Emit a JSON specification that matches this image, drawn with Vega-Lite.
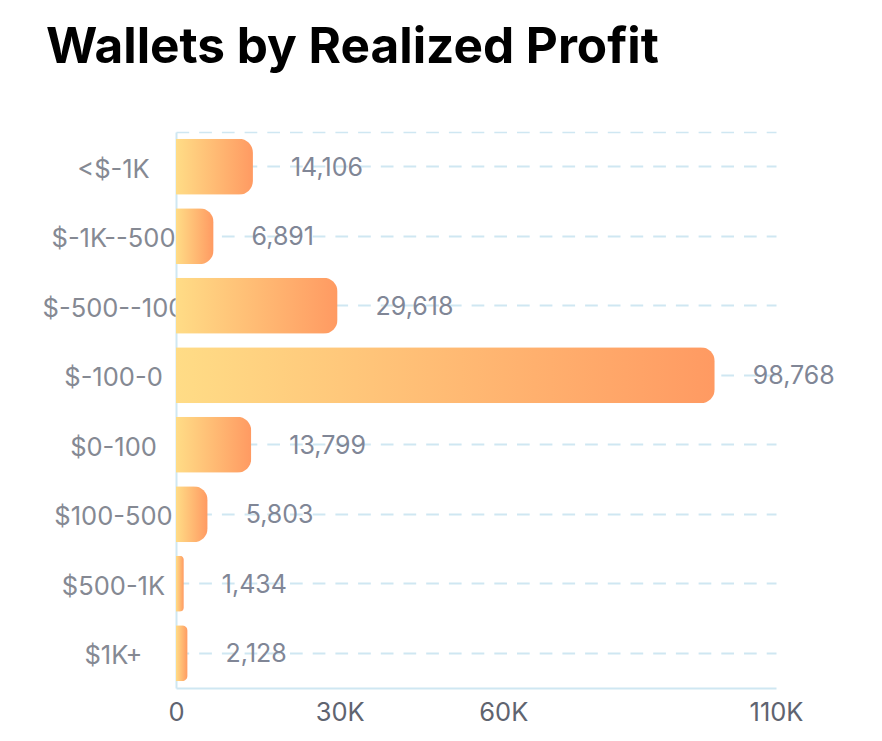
{
  "$schema": "https://vega.github.io/schema/vega-lite/v6.json",
  "width": 600,
  "height": 556,
  "padding": {"left": 176, "top": 132, "right": 106, "bottom": 53},
  "autosize": {"type": "none"},
  "background": "white",
  "view": {"stroke": null},
  "title": {
    "text": "Wallets by Realized Profit",
    "anchor": "start",
    "frame": "group",
    "font": "Inter",
    "fontSize": 49.5,
    "fontWeight": 700,
    "color": "#000000",
    "dx": -130,
    "dy": -55
  },
  "data": {
    "values": [
      {"bucket": "<$-1K", "wallets": 14106},
      {"bucket": "$-1K--500", "wallets": 6891},
      {"bucket": "$-500--100", "wallets": 29618},
      {"bucket": "$-100-0", "wallets": 98768},
      {"bucket": "$0-100", "wallets": 13799},
      {"bucket": "$100-500", "wallets": 5803},
      {"bucket": "$500-1K", "wallets": 1434},
      {"bucket": "$1K+", "wallets": 2128}
    ]
  },
  "encoding": {
    "y": {
      "field": "bucket",
      "type": "nominal",
      "sort": null,
      "title": null,
      "scale": {"paddingInner": 0.195, "paddingOuter": 0.0975},
      "axis": {
        "ticks": false,
        "labelAlign": "center",
        "labelPadding": 63,
        "labelLimit": 0,
        "labelOffset": 3,
        "labelFont": "Inter",
        "labelFontSize": 25.5,
        "labelColor": "#858993",
        "domainColor": "#CFE7F2",
        "domainWidth": 2,
        "grid": true,
        "gridColor": "#CFE7F2",
        "gridWidth": 2,
        "gridDash": [12.7, 10]
      }
    }
  },
  "layer": [
    {
      "mark": {
        "type": "bar",
        "cornerRadiusEnd": 14,
        "color": {
          "gradient": "linear",
          "x1": 0, "y1": 0, "x2": 1, "y2": 0,
          "stops": [
            {"offset": 0, "color": "#FFDC86"},
            {"offset": 1, "color": "#FF9A62"}
          ]
        }
      },
      "encoding": {
        "x": {
          "field": "wallets",
          "type": "quantitative",
          "title": null,
          "scale": {"domain": [0, 110000], "nice": false},
          "axis": {
            "values": [0, 30000, 60000, 110000],
            "labelExpr": "datum.value == 0 ? '0' : datum.value / 1000 + 'K'",
            "ticks": false,
            "grid": false,
            "labelFlush": false,
            "labelPadding": 12,
            "labelFont": "Inter",
            "labelFontSize": 25.5,
            "labelColor": "#5F6470",
            "domainColor": "#CFE7F2",
            "domainWidth": 2
          }
        }
      }
    },
    {
      "mark": {"type": "text", "align": "left", "dx": 38, "dy": 1, "font": "Inter", "fontSize": 25, "color": "#808696"},
      "encoding": {
        "x": {
          "field": "wallets",
          "type": "quantitative",
          "title": null,
          "axis": {
            "orient": "top",
            "labels": false,
            "ticks": false,
            "grid": false,
            "domainColor": "#CFE7F2",
            "domainWidth": 1.5,
            "domainDash": [12.7, 10]
          }
        },
        "text": {"field": "wallets", "type": "quantitative", "format": ","}
      }
    }
  ],
  "resolve": {"axis": {"x": "independent"}}
}
